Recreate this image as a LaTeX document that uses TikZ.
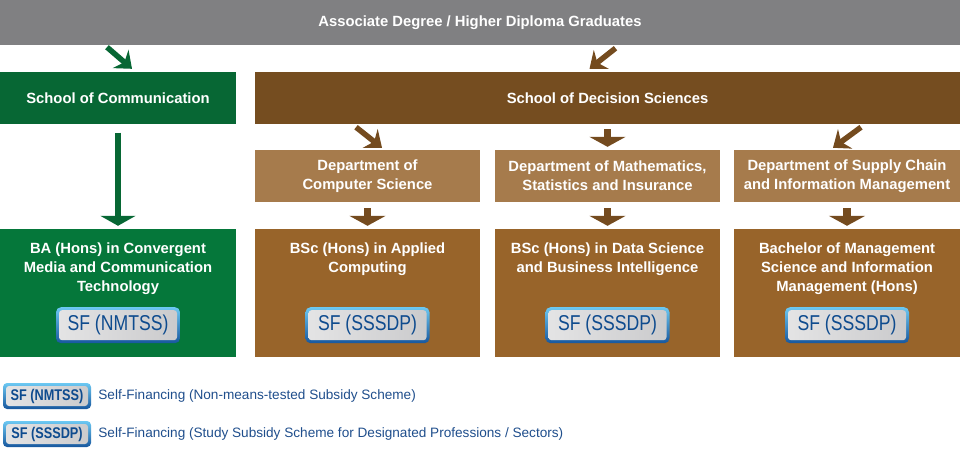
\documentclass[tikz,border=0pt]{standalone}
\usepackage{fontspec}
\setmainfont{Liberation Sans}
\newfontfamily\narrowfont[FakeStretch=0.82]{Liberation Sans}
\usetikzlibrary{arrows.meta,positioning,calc}

\definecolor{topgray}{HTML}{808082}
\definecolor{comgreen}{HTML}{076734}
\definecolor{proggreen}{HTML}{05773A}
\definecolor{dsbrown}{HTML}{754D20}
\definecolor{deptbrown}{HTML}{A67B4C}
\definecolor{progbrown}{HTML}{98642A}
\definecolor{arrowbrown}{HTML}{744B1F}
\definecolor{badgelight}{HTML}{6CC8F2}
\definecolor{badgedark}{HTML}{17579E}
\definecolor{badgegray}{HTML}{C4C4C6}
\definecolor{badgetext}{HTML}{0E4B8E}
\definecolor{keytext}{HTML}{1F4E8C}

\newcommand\boxfont{\fontsize{14.8}{18.7}\selectfont\bfseries}
\newcommand\badgefont{\narrowfont\fontsize{21.5}{22}\selectfont}
\newcommand\keybadgefont{\narrowfont\bfseries\fontsize{15.5}{16}\selectfont}

\begin{document}
\begin{tikzpicture}[x=1pt,y=-1pt,
    every node/.style={inner sep=0pt},
    box/.style={text=white, align=center, font=\boxfont},
    school/.style={box, minimum height=52},
    dept/.style={box, fill=deptbrown, minimum width=225, minimum height=52},
    prog/.style={minimum width=225, minimum height=128, fill=progbrown},
    progtitle/.style={box, anchor=north},
    badge/.style={rounded corners=5pt, top color=badgelight, bottom color=badgedark,
        minimum width=124, minimum height=36, text=badgetext, font=\badgefont,
        path picture={\shade[rounded corners=3pt, left color=badgegray!45, middle color=white, right color=badgegray!90]
            ([shift={(3pt,-3pt)}]path picture bounding box.north west) rectangle
            ([shift={(-3pt,3pt)}]path picture bounding box.south east);}},
    keybadge/.style={badge, rounded corners=4pt, minimum width=88, minimum height=26, font=\keybadgefont},
    keylabel/.style={text=keytext, font=\fontsize{13.6}{16}\selectfont},
    slantarrow/.style={line width=5.5pt, -{Stealth[width=24pt,length=15pt,inset=5pt]}},
    downarrow/.style={draw=arrowbrown, line width=7.5pt, -{Triangle[width=36pt,length=10pt]},
        shorten <=6pt, shorten >=3pt},
]
\useasboundingbox (0,0) rectangle (960,450);

% top row
\node[box, fill=topgray, minimum width=960, minimum height=45] (grads) at (480,22.5)
    {Associate Degree / Higher Diploma Graduates};
\node[school, fill=comgreen, minimum width=236] (soc) at (118,98) {School of Communication};
\node[school, fill=dsbrown, minimum width=705] (sds) at (607.5,98) {School of Decision Sciences};

% departments
\node[dept] (dcs) at (367.5,176) {Department of\\Computer Science};
\node[dept] (dmsi) at (607.5,176) {Department of Mathematics,\\Statistics and Insurance};
\node[dept, minimum width=226] (dscim) at (847,176) {Department of Supply Chain\\and Information Management};

% programmes
\node[prog, fill=proggreen, minimum width=236] (bacmct) at (118,293) {};
\node[progtitle] (bacmcttitle) at ($(bacmct.north)+(0,14)$)
    {BA (Hons) in Convergent\\Media and Communication\\Technology};
\node[badge] (bacmctbadge) at ($(bacmct.south)+(0,-32)$) {SF (NMTSS)};

\node[prog] (bscac) at (367.5,293) {};
\node[progtitle] (bscactitle) at ($(bscac.north)+(0,14)$) {BSc (Hons) in Applied\\Computing};
\node[badge] (bscacbadge) at ($(bscac.south)+(0,-32)$) {SF (SSSDP)};

\node[prog] (bscdsbi) at (607.5,293) {};
\node[progtitle] (bscdsbititle) at ($(bscdsbi.north)+(0,14)$)
    {BSc (Hons) in Data Science\\and Business Intelligence};
\node[badge] (bscdsbibadge) at ($(bscdsbi.south)+(0,-32)$) {SF (SSSDP)};

\node[prog, minimum width=226] (bmsim) at (847,293) {};
\node[progtitle] (bmsimtitle) at ($(bmsim.north)+(0,14)$)
    {Bachelor of Management\\Science and Information\\Management (Hons)};
\node[badge] (bmsimbadge) at ($(bmsim.south)+(0,-32)$) {SF (SSSDP)};

% arrows
\draw[slantarrow, comgreen] ($(grads.south -| soc.north)+(-11,2)$) -- ($(soc.north)+(14,-3)$);
\draw[slantarrow, arrowbrown] ($(grads.south -| sds.north)+(8,3)$) -- ($(sds.north)+(-18,-3)$);
\draw[slantarrow, arrowbrown] ($(sds.south -| dcs.north)+(-11.5,3)$) -- ($(dcs.north)+(14.5,-2)$);
\draw[downarrow, shorten <=5pt] (sds.south -| dmsi.north) -- (dmsi.north);
\draw[slantarrow, arrowbrown] ($(sds.south -| dscim.north)+(14,3)$) -- ($(dscim.north)+(-14,-2)$);

\draw[comgreen, line width=5.5pt, -{Triangle[width=35pt,length=10pt]},
    shorten <=8.5pt, shorten >=3pt] (soc.south) -- (bacmct.north);
\draw[downarrow] (dcs.south) -- (bscac.north);
\draw[downarrow] (dmsi.south) -- (bscdsbi.north);
\draw[downarrow] (dscim.south) -- (bmsim.north);

% key
\node[keybadge] (keynmtss) at (47,396) {SF (NMTSS)};
\node[keylabel, right=7pt of keynmtss] (keynmtsstext) {Self-Financing (Non-means-tested Subsidy Scheme)};
\node[keybadge] (keysssdp) at (47,434) {SF (SSSDP)};
\node[keylabel, right=7pt of keysssdp] (keysssdptext)
    {Self-Financing (Study Subsidy Scheme for Designated Professions / Sectors)};
\end{tikzpicture}
\end{document}
